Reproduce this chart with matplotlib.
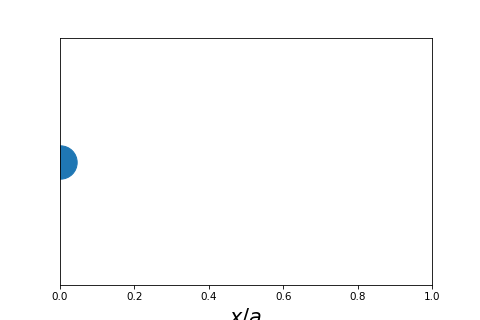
import matplotlib
matplotlib.use("Agg")
import matplotlib.pyplot as plt

# particle position at this frame
x_pos = [0.0]
y_pos = [0.0]

fig = plt.figure(figsize=(6.4, 320 / 75))
ax = fig.add_subplot(111)

ax.plot(x_pos, y_pos, "o", color="#1f77b4", markersize=32)

ax.set_xlim(0, 1)
ax.set_ylim(-1, 1)
ax.set_yticks([])
ax.set_xlabel("$x/a$", fontsize=20)

fig.savefig("out.png", dpi=75)
